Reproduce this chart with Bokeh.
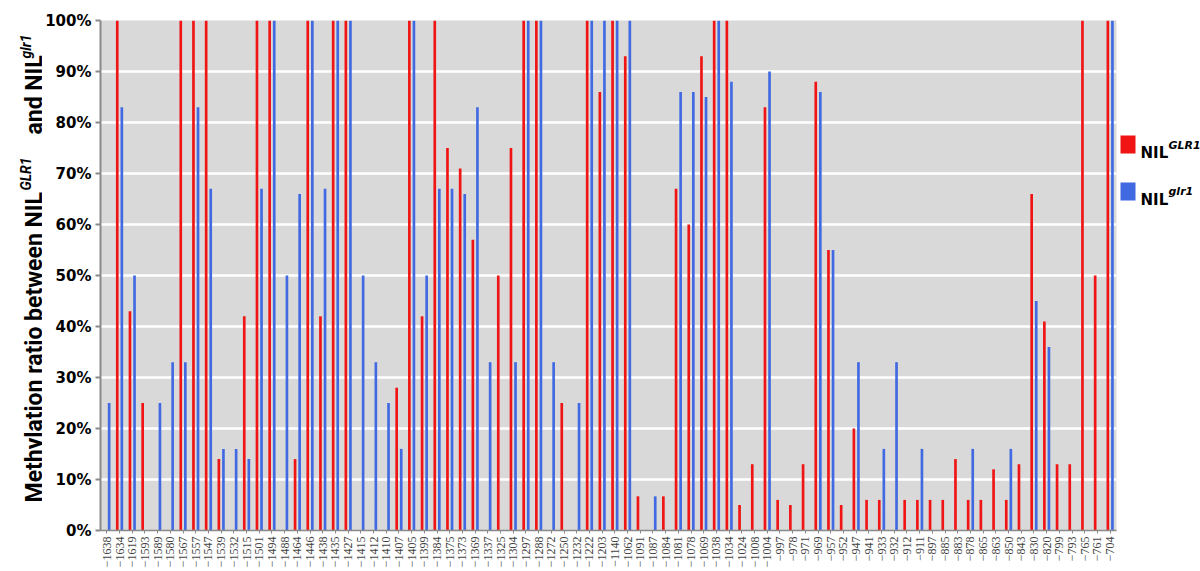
from math import pi
from bokeh.plotting import figure
from bokeh.layouts import row
from bokeh.models import ColumnDataSource, FactorRange, Range1d, FixedTicker, Label, BoxAnnotation
from bokeh.transform import dodge
from bokeh.embed import file_html
from bokeh.resources import INLINE

positions = [-1638, -1634, -1619, -1593, -1589, -1580, -1567, -1557, -1547, -1539,
             -1532, -1515, -1501, -1494, -1488, -1464, -1446, -1438, -1435, -1427,
             -1415, -1412, -1410, -1407, -1405, -1399, -1384, -1375, -1373, -1369,
             -1337, -1325, -1304, -1297, -1288, -1272, -1250, -1232, -1222, -1203,
             -1140, -1062, -1091, -1087, -1084, -1081, -1078, -1069, -1038, -1034,
             -1024, -1008, -1004, -997, -978, -971, -969, -957, -952, -947,
             -941, -933, -932, -912, -911, -897, -885, -883, -878, -865,
             -863, -850, -843, -830, -820, -799, -793, -765, -761, -704]

nil_GLR1 = [0, 100, 43, 25, 0, 0, 100, 100, 100, 14,
            0, 42, 100, 100, 0, 14, 100, 42, 100, 100,
            0, 0, 0, 28, 100, 42, 100, 75, 71, 57,
            0, 50, 75, 100, 100, 0, 25, 0, 100, 86,
            100, 93, 6.7, 0, 6.7, 67, 60, 93, 100, 100,
            5, 13, 83, 6, 5, 13, 88, 55, 5, 20,
            6, 6, 0, 6, 6, 6, 6, 14, 6, 6,
            12, 6, 13, 66, 41, 13, 13, 100, 50, 100]

nil_glr1 = [25, 83, 50, 0, 25, 33, 33, 83, 67, 16,
            16, 14, 67, 100, 50, 66, 100, 67, 100, 100,
            50, 33, 25, 16, 100, 50, 67, 67, 66, 83,
            33, 0, 33, 100, 100, 33, 0, 25, 100, 100,
            100, 100, 0, 6.7, 0, 86, 86, 85, 100, 88,
            0, 0, 90, 0, 0, 0, 86, 55, 0, 33,
            0, 16, 33, 0, 16, 0, 0, 0, 16, 0,
            0, 16, 0, 45, 36, 0, 0, 0, 0, 100]

y_ticks = [0, 10, 20, 30, 40, 50, 60, 70, 80, 90, 100]

RED = "#f01414"
BLUE = "#4169e1"
TOP, FRAME_H, BOTTOM = 20, 510, 41
TITLE_W = 42

cats = ["\u2212" + str(abs(v)) for v in positions]

red_src = ColumnDataSource(dict(
    cat=[c for c, v in zip(cats, nil_GLR1) if v > 0],
    val=[v for v in nil_GLR1 if v > 0]))
blue_src = ColumnDataSource(dict(
    cat=[c for c, v in zip(cats, nil_glr1) if v > 0],
    val=[v for v in nil_glr1 if v > 0]))


def blank_fig(x0, x1):
    # same vertical structure as the main chart; data coords == page pixels
    f = figure(frame_width=x1 - x0, frame_height=FRAME_H,
               x_range=Range1d(x0, x1), y_range=Range1d(TOP + FRAME_H, TOP),
               min_border_left=0, min_border_right=0,
               min_border_top=TOP, min_border_bottom=BOTTOM,
               x_axis_location=None, y_axis_location=None,
               output_backend="svg", toolbar_location=None, tools="")
    f.outline_line_color = None
    f.grid.grid_line_color = None
    f.background_fill_color = "white"
    f.border_fill_color = "white"
    return f


# ---------- main chart ----------
p = figure(x_range=FactorRange(*cats), y_range=Range1d(0, 100),
           frame_width=1016, frame_height=FRAME_H,
           min_border_left=97 - TITLE_W, min_border_right=2,
           min_border_top=TOP, min_border_bottom=BOTTOM,
           output_backend="svg", toolbar_location=None, tools="")

p.background_fill_color = "#d9d9d9"
p.border_fill_color = "white"
p.outline_line_color = None

p.vbar(x=dodge("cat", -0.18, range=p.x_range), top="val", width=0.21, bottom=0,
       source=red_src, fill_color=RED, line_color=None)
p.vbar(x=dodge("cat", 0.18, range=p.x_range), top="val", width=0.21, bottom=0,
       source=blue_src, fill_color=BLUE, line_color=None)

p.xgrid.grid_line_color = None
p.ygrid.ticker = FixedTicker(ticks=y_ticks[1:-1])
p.ygrid.grid_line_color = "white"
p.ygrid.grid_line_width = 2.5

p.yaxis.ticker = FixedTicker(ticks=y_ticks)
p.yaxis.major_label_overrides = {t: f"{t}%" for t in y_ticks}
p.yaxis.major_label_text_font = "DejaVu Sans"
p.yaxis.major_label_text_font_style = "bold"
p.yaxis.major_label_text_font_size = "15px"
p.yaxis.major_label_text_color = "black"
p.yaxis.major_label_standoff = 4
p.yaxis.major_tick_out = 5
p.yaxis.major_tick_in = 0
p.yaxis.minor_tick_line_color = None
p.yaxis.axis_line_color = "#8a8a8a"
p.yaxis.axis_line_width = 2
p.yaxis.major_tick_line_color = "#8a8a8a"
p.yaxis.major_tick_line_width = 2

p.xaxis.major_label_orientation = pi / 2
p.xaxis.major_label_text_font = "Liberation Serif"
p.xaxis.major_label_text_font_size = "12px"
p.xaxis.major_label_text_color = "#444444"
p.xaxis.major_label_standoff = 3
p.xaxis.major_tick_out = 3
p.xaxis.major_tick_in = 0
p.xaxis.axis_line_color = "#8a8a8a"
p.xaxis.axis_line_width = 1.5
p.xaxis.major_tick_line_color = "#8a8a8a"

# ---------- y-axis title (left strip) ----------
t = blank_fig(0, TITLE_W)
TF = "Roboto"
t.add_layout(Label(x=34, y=502, text="Methylation ratio between NIL", angle=pi / 2,
                   text_font=TF, text_font_style="bold", text_font_size="23px",
                   text_align="left", text_baseline="alphabetic", text_color="black"))
t.add_layout(Label(x=25, y=190, text="GLR1", angle=pi / 2,
                   text_font=TF, text_font_style="bold italic", text_font_size="14px",
                   text_align="left", text_baseline="alphabetic", text_color="black"))
t.add_layout(Label(x=34, y=134, text="and NIL", angle=pi / 2,
                   text_font=TF, text_font_style="bold", text_font_size="23px",
                   text_align="left", text_baseline="alphabetic", text_color="black"))
t.add_layout(Label(x=25, y=58, text="glr1", angle=pi / 2,
                   text_font=TF, text_font_style="bold italic", text_font_size="14px",
                   text_align="left", text_baseline="alphabetic", text_color="black"))

# ---------- legend (right strip) ----------
g = blank_fig(1115, 1200)
g.add_layout(BoxAnnotation(left=1117, right=1132, top=135, bottom=153,
                           fill_color=RED, fill_alpha=1, line_color=None))
g.add_layout(BoxAnnotation(left=1117, right=1132, top=182, bottom=200,
                           fill_color=BLUE, fill_alpha=1, line_color=None))
LF = "DejaVu Sans"
g.add_layout(Label(x=1137, y=152, text="NIL", text_font=LF, text_font_style="bold",
                   text_font_size="15px", text_align="left", text_baseline="alphabetic",
                   text_color="black"))
g.add_layout(Label(x=1165, y=145, text="GLR1", text_font=LF, text_font_style="bold italic",
                   text_font_size="11px", text_align="left", text_baseline="alphabetic",
                   text_color="black"))
g.add_layout(Label(x=1137, y=199, text="NIL", text_font=LF, text_font_style="bold",
                   text_font_size="15px", text_align="left", text_baseline="alphabetic",
                   text_color="black"))
g.add_layout(Label(x=1165, y=191, text="glr1", text_font=LF, text_font_style="bold italic",
                   text_font_size="11px", text_align="left", text_baseline="alphabetic",
                   text_color="black"))

layout = row(t, p, g, spacing=0)
open("out.html", "w").write(file_html(layout, INLINE))
